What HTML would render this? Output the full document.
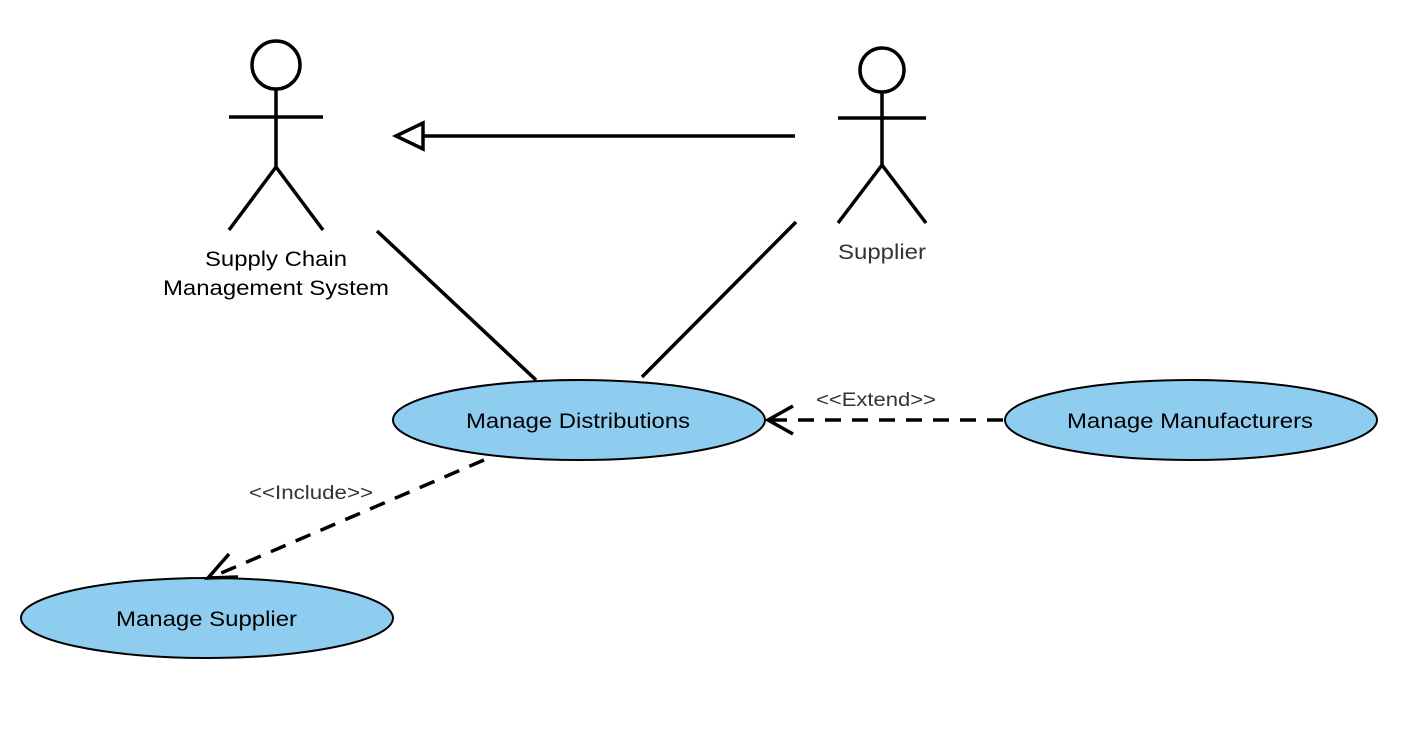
<!DOCTYPE html>
<html><head><meta charset="utf-8"><style>
html,body{margin:0;padding:0;background:#fff;}
svg{display:block;}
text{font-family:"Liberation Sans",Arial,sans-serif;}
</style></head><body>
<svg width="1402" height="730" viewBox="0 0 1402 730" xmlns="http://www.w3.org/2000/svg">
<g stroke="#000" stroke-width="3.5" fill="none">
  <circle cx="276" cy="65" r="24" fill="#fff"/>
  <line x1="276" y1="89" x2="276" y2="167"/>
  <line x1="229" y1="117" x2="323" y2="117"/>
  <line x1="276" y1="167" x2="229" y2="230"/>
  <line x1="276" y1="167" x2="323" y2="230"/>
  <circle cx="882" cy="70" r="22" fill="#fff"/>
  <line x1="882" y1="92" x2="882" y2="165"/>
  <line x1="838" y1="118" x2="926" y2="118"/>
  <line x1="882" y1="165" x2="838" y2="223"/>
  <line x1="882" y1="165" x2="926" y2="223"/>
  <line x1="795" y1="136" x2="423" y2="136"/>
  <polygon points="396,136 423,123 423,149" fill="#fff"/>
  <line x1="377" y1="231" x2="536" y2="380"/>
  <line x1="796" y1="222" x2="642" y2="377"/>
</g>
<g fill="#8ecdf0" stroke="#000" stroke-width="2">
  <ellipse cx="579" cy="420" rx="186" ry="40"/>
  <ellipse cx="1191" cy="420" rx="186" ry="40"/>
  <ellipse cx="207" cy="618" rx="186" ry="40"/>
</g>
<g stroke="#000" stroke-width="3.5" fill="none">
  <line x1="1003" y1="420" x2="770" y2="420" stroke-dasharray="16,11"/>
  <polyline points="793,406 768,420 793,434"/>
  <line x1="484" y1="460" x2="212" y2="577" stroke-dasharray="16,11"/>
  <polyline points="229,554 208,578 238,577"/>
</g>
<g font-size="21" fill="#000" lengthAdjust="spacingAndGlyphs">
  <text x="205" y="266" textLength="142" lengthAdjust="spacingAndGlyphs">Supply Chain</text>
  <text x="163" y="295" textLength="226" lengthAdjust="spacingAndGlyphs">Management System</text>
  <text x="838" y="259" fill="#333" textLength="88" lengthAdjust="spacingAndGlyphs">Supplier</text>
  <text x="466" y="428" textLength="224" lengthAdjust="spacingAndGlyphs">Manage Distributions</text>
  <text x="1067" y="428" textLength="246" lengthAdjust="spacingAndGlyphs">Manage Manufacturers</text>
  <text x="116" y="626" textLength="181" lengthAdjust="spacingAndGlyphs">Manage Supplier</text>
</g>
<g font-size="19" fill="#333">
  <text x="816" y="406" textLength="120" lengthAdjust="spacingAndGlyphs">&lt;&lt;Extend&gt;&gt;</text>
  <text x="249" y="499" textLength="124" lengthAdjust="spacingAndGlyphs">&lt;&lt;Include&gt;&gt;</text>
</g>
</svg>
</body></html>
